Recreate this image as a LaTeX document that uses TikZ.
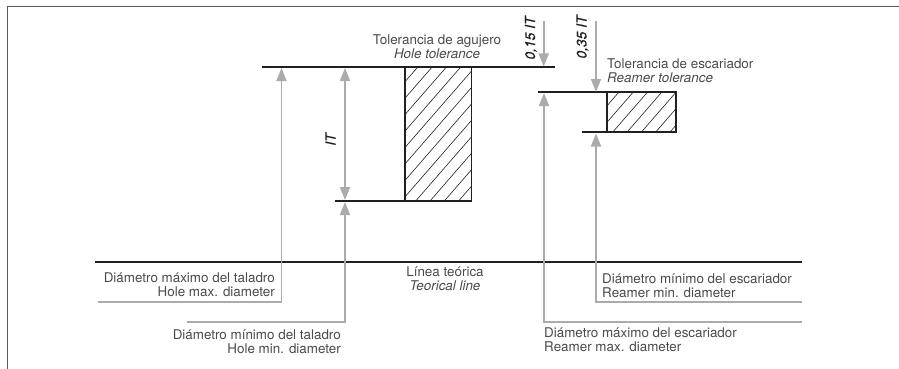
\documentclass[tikz,border=0pt]{standalone}
\usepackage{fontspec}
\setmainfont{TeX Gyre Heros}
\newfontface\dimfont[FakeBold=0.25]{TeX Gyre Heros Italic}
\usetikzlibrary{arrows.meta}
\definecolor{arrowgray}{HTML}{A9ABAE}
\definecolor{inkline}{HTML}{231F20}
\definecolor{textgray}{HTML}{4A4A4C}
\tikzset{
  x=1pt,y=-1pt,
  frameline/.style={draw=black!65,line width=1.3pt},
  thick line/.style={draw=inkline,line width=1.8pt},
  lead/.style={draw=arrowgray,line width=1.8pt,-{Triangle[width=10pt,length=13pt]},line join=miter},
  lead both/.style={draw=arrowgray,line width=1.8pt,{Triangle[width=10pt,length=13pt]}-{Triangle[width=10pt,length=13pt]}},
  hatch/.style={draw=inkline,line width=0.6pt},
  label text/.style={text=textgray,font=\fontsize{13.4}{14.4}\selectfont,inner sep=0pt},
  dim text/.style={text=inkline,font=\fontsize{13.8}{14.4}\dimfont,inner sep=0pt,rotate=90},
}
\begin{document}
\begin{tikzpicture}
\useasboundingbox (0,0) rectangle (899,369);
% frame
\coordinate (fbl) at (7.5,369);
\coordinate (ftl) at (7.5,6.5);
\coordinate (ftr) at (899,6.5);
\draw[frameline] (fbl) -- (ftl) -- (ftr);
% hatching
\begin{scope}
\clip (405,67) rectangle (471.5,201);
\foreach \i in {0,...,16}{
  \draw[hatch] ({405+14.3*\i-1.5},67) -- ++({-134/1.15},134);
}
\end{scope}
\begin{scope}
\clip (607,92) rectangle (676,132);
\foreach \i in {0,...,7}{
  \draw[hatch] ({619+14.3*\i},92) -- ++({-40/1.15},40);
}
\end{scope}
% hole tolerance band
\coordinate (h1) at (262,67);
\coordinate (h2) at (555,67);
\coordinate (h3) at (334.5,201);
\coordinate (h4) at (471.5,201);
\coordinate (h5) at (405,67);
\coordinate (h6) at (405,201);
\coordinate (h7) at (471.5,67);
\draw[thick line] (h1) -- (h2);
\draw[thick line] (h3) -- (h4);
\draw[thick line] (h5) -- (h6);
\draw[thick line] (h7) -- (h4);
% reamer tolerance band
\coordinate (r1) at (538,92);
\coordinate (r2) at (676,92);
\coordinate (r3) at (582,132);
\coordinate (r4) at (676,132);
\coordinate (r5) at (607,92);
\coordinate (r6) at (607,132);
\draw[thick line] (r1) -- (r2) -- (r4) -- (r3);
\draw[thick line] (r5) -- (r6);
% theoretical line
\coordinate (t1) at (95,262);
\coordinate (t2) at (802,262);
\draw[thick line] (t1) -- (t2);
% leaders
\coordinate (a1) at (98,302);
\coordinate (a2) at (281.5,302);
\coordinate (a3) at (281.5,68);
\draw[lead] (a1) -- (a2) -- (a3);
\coordinate (b1) at (187,322);
\coordinate (b2) at (345,322);
\coordinate (b3) at (345,202);
\draw[lead] (b1) -- (b2) -- (b3);
\coordinate (c1) at (345,68);
\coordinate (c2) at (345,200);
\draw[lead both] (c1) -- (c2);
\coordinate (d1) at (543.7,21);
\coordinate (d2) at (543.7,66.5);
\draw[lead] (d1) -- (d2);
\coordinate (e1) at (596,21);
\coordinate (e2) at (596,92);
\draw[lead] (e1) -- (e2);
\coordinate (f1) at (802,322);
\coordinate (f2) at (544,322);
\coordinate (f3) at (544,93);
\draw[lead] (f1) -- (f2) -- (f3);
\coordinate (g1) at (802,302);
\coordinate (g2) at (596,302);
\coordinate (g3) at (596,133.5);
\draw[lead] (g1) -- (g2) -- (g3);
% labels
\node[label text,align=center] (tolhole) at (437,46.5) {Tolerancia de agujero\\\textit{Hole tolerance}};
\node[label text,align=left,anchor=west] (tolream) at (607,70.5) {Tolerancia de escariador\\\textit{Reamer tolerance}};
\node[label text,align=center] (linea) at (445,279) {Línea teórica\\\textit{Teorical line}};
\node[label text,align=right,anchor=east] (holemax) at (275,285) {Diámetro máximo del taladro\\Hole max. diameter};
\node[label text,align=right,anchor=east] (holemin) at (341,342) {Diámetro mínimo del taladro\\Hole min. diameter};
\node[label text,align=left,anchor=west] (reammin) at (602,286) {Diámetro mínimo del escariador\\Reamer min. diameter};
\node[label text,align=left,anchor=west] (reammax) at (544,339.5) {Diámetro máximo del escariador\\Reamer max. diameter};
\node[dim text] (it) at (330.5,139.5) {IT};
\node[dim text] (it15) at (531,38) {0,15 IT};
\node[dim text] (it35) at (582.5,37) {0,35 IT};
\end{tikzpicture}
\end{document}
